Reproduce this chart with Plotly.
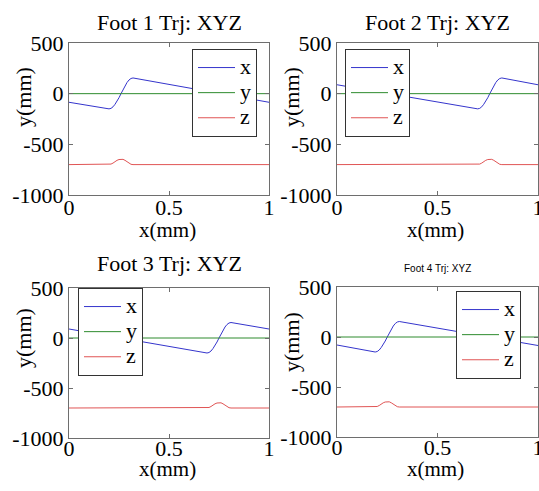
import plotly.graph_objects as go

W, H = 539, 491

# ---- data ----
t_f1 = [0.0, 0.20, 0.21, 0.22, 0.23, 0.24, 0.25, 0.26, 0.27, 0.28, 0.29, 0.30, 0.31, 0.32, 1.0]
x_f1 = [-85, -150, -145, -130, -105, -75, -40, 0, 40, 80, 110, 135, 150, 155, -85]
y_f1 = [0, 0, 0, 0, 0, 0, 0, 0, 0, 0, 0, 0, 0, 0, 0]
z_f1 = [-700, -700, -695, -685, -670, -658, -650, -646, -648, -658, -673, -688, -697, -700, -700]

t_f2 = [0.0, 0.70, 0.71, 0.72, 0.73, 0.74, 0.75, 0.76, 0.77, 0.78, 0.79, 0.80, 0.81, 0.82, 1.0]
x_f2 = [88, -150, -145, -130, -105, -75, -40, 0, 40, 80, 110, 135, 150, 155, 88]
y_f2 = [0, 0, 0, 0, 0, 0, 0, 0, 0, 0, 0, 0, 0, 0, 0]
z_f2 = [-700, -700, -695, -685, -670, -658, -650, -646, -648, -658, -673, -688, -697, -700, -700]

t_f3 = [0.0, 0.69, 0.70, 0.71, 0.72, 0.73, 0.74, 0.75, 0.76, 0.77, 0.78, 0.79, 0.80, 0.81, 1.0]
x_f3 = [90, -150, -145, -130, -105, -75, -40, 0, 40, 80, 110, 135, 150, 155, 90]
y_f3 = [0, 0, 0, 0, 0, 0, 0, 0, 0, 0, 0, 0, 0, 0, 0]
z_f3 = [-700, -700, -695, -685, -670, -658, -650, -646, -648, -658, -673, -688, -697, -700, -700]

t_f4 = [0.0, 0.19, 0.20, 0.21, 0.22, 0.23, 0.24, 0.25, 0.26, 0.27, 0.28, 0.29, 0.30, 0.31, 1.0]
x_f4 = [-80, -150, -145, -130, -105, -75, -40, 0, 40, 80, 110, 135, 150, 155, -85]
y_f4 = [0, 0, 0, 0, 0, 0, 0, 0, 0, 0, 0, 0, 0, 0, 0]
z_f4 = [-700, -700, -695, -685, -670, -658, -650, -646, -648, -658, -673, -688, -697, -700, -700]

titles = ["Foot 1 Trj: XYZ", "Foot 2 Trj: XYZ", "Foot 3 Trj: XYZ", "Foot 4 Trj: XYZ"]
series_names = ["x", "y", "z"]
x_ticks = [0, 0.5, 1]
x_tick_labels = ["0", "0.5", "1"]
y_ticks = [-1000, -500, 0, 500]
y_tick_labels = ["-1000", "-500", "0", "500"]

feet = [(t_f1, x_f1, y_f1, z_f1), (t_f2, x_f2, y_f2, z_f2),
        (t_f3, x_f3, y_f3, z_f3), (t_f4, x_f4, y_f4, z_f4)]

colors = ["#3535cc", "#2e8b2e", "#e05555"]
SERIF = "Liberation Serif"

# panel geometry in pixels: (left, right, top, bottom)
panels = [(69, 269, 43, 195), (337, 538, 43, 195),
          (69, 269, 288, 438), (337, 538, 287, 437)]
legend_pos = [(192, 49), (345, 49), (78, 288), (456, 291)]

def px(xp):
    return xp / W

def py(yp):
    return 1 - yp / H

fig = go.Figure()
layout = dict(width=W, height=H, margin=dict(l=0, r=0, t=0, b=0, autoexpand=False),
              paper_bgcolor="white", plot_bgcolor="white", showlegend=True,
              annotations=[])

for i, (t, xs, ys, zs) in enumerate(feet):
    n = i + 1
    xa = "x" if n == 1 else f"x{n}"
    ya = "y" if n == 1 else f"y{n}"
    lg = "legend" if n == 1 else f"legend{n}"
    for name, vals, c in zip(series_names, (xs, ys, zs), colors):
        fig.add_trace(go.Scatter(x=t, y=vals, mode="lines",
                                 name=f"<span style='font-size:22px'>{name}</span>",
                                 line=dict(color=c, width=1),
                                 xaxis=xa, yaxis=ya, legend=lg))
    l, r, tp, b = panels[i]
    common = dict(showline=True, linecolor="#6e6e6e", linewidth=1, mirror="ticks",
                  ticks="inside", ticklen=4, tickcolor="#6e6e6e", showgrid=False,
                  zeroline=False, automargin=False, ticklabeloverflow="allow",
                  tickfont=dict(family=SERIF, size=22, color="black"))
    layout["xaxis" if n == 1 else f"xaxis{n}"] = dict(
        domain=[px(l), px(r)], range=[0, 1], anchor=ya,
        ticklabelstandoff=-7 if n <= 2 else -9,
        tickvals=x_ticks, ticktext=x_tick_labels, **common)
    layout["yaxis" if n == 1 else f"yaxis{n}"] = dict(
        domain=[py(b), py(tp)], range=[-1000, 500], anchor=xa,
        tickvals=y_ticks, ticktext=y_tick_labels, **common)
    lx, ly = legend_pos[i]
    layout[lg] = dict(x=px(lx), y=py(ly), xanchor="left", yanchor="top",
                      bgcolor="white", bordercolor="#333333", borderwidth=1,
                      font=dict(family=SERIF, size=17, color="black"),
                      itemwidth=37, tracegroupgap=0)
    cx = (l + r) / 2
    # title
    if n == 4:
        layout["annotations"].append(dict(text=titles[i], x=px(cx), y=py(268), xref="paper", yref="paper",
                                          showarrow=False, xanchor="center", yanchor="middle",
                                          font=dict(family="Liberation Sans", size=10, color="black")))
    else:
        ty = 22 if n <= 2 else 263
        layout["annotations"].append(dict(text=titles[i], x=px(cx), y=py(ty), xref="paper", yref="paper",
                                          showarrow=False, xanchor="center", yanchor="middle",
                                          font=dict(family=SERIF, size=22, color="black")))
    # x label
    xly = 230 if n <= 2 else 469
    layout["annotations"].append(dict(text="x(mm)", x=px(cx - 2), y=py(xly), xref="paper", yref="paper",
                                      showarrow=False, xanchor="center", yanchor="middle",
                                      font=dict(family=SERIF, size=21, color="black")))
    # y label
    ylx = 23 if n in (1, 3) else 291
    yly = {1: 97, 2: 97, 3: 338, 4: 342}[n]
    layout["annotations"].append(dict(text="y(mm)", x=px(ylx), y=py(yly), xref="paper", yref="paper",
                                      showarrow=False, xanchor="center", yanchor="middle", textangle=-90,
                                      font=dict(family=SERIF, size=22, color="black")))

fig.update_layout(**layout)
fig.write_html("out.html")
